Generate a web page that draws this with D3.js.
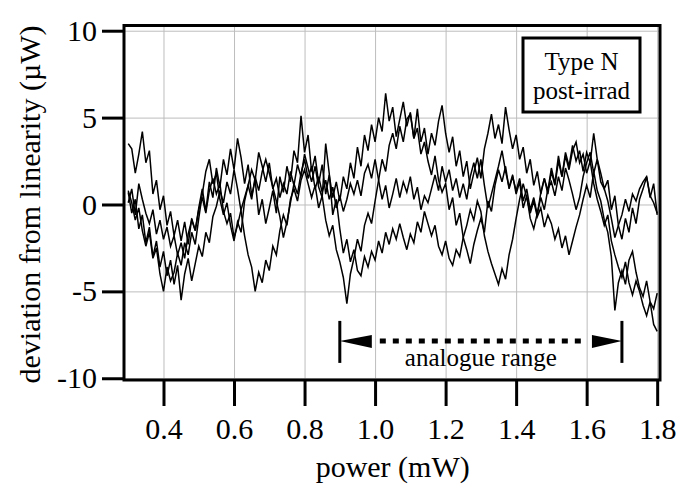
<!DOCTYPE html>
<html>
<head>
<meta charset="utf-8">
<script src="https://cdn.jsdelivr.net/npm/d3@7"></script>
<style>
  body { margin: 0; background: #fff; }
  svg text { font-family: "Liberation Serif", "Times New Roman", serif; fill: #000; }
  .grid line { stroke: #bdbdbd; stroke-width: 1px; }
  .grid path { display: none; }
  .axis path { display: none; }
  .axis line { stroke: #000; stroke-width: 3px; }
  .axis text { font-size: 30px; }
</style>
</head>
<body>
<div id="graphic"></div>
<script>
// sampling grid of the sweeps (mW)
var power = d3.range(151).map(function(i) { return +(0.30 + i * 0.01).toFixed(2); });

// four sweeps, deviation from linearity (µW)
var sweepA = [
  3.5, 3.2, 1.8, 2.9, 4.2, 2.4, 3.1, 0.6, 1.4, -0.3,
  0.5, -1.2, -0.4, -1.8, -0.9, -2.1, -1.0, -2.3, -0.8, -1.5,
  -0.2, 0.9, -0.4, 1.3, 0.4, 2.1, 1.0, 2.6, 1.7, 3.2,
  2.0, 3.8, 2.7, 1.2, 2.3, 0.5, 1.4, -0.6, 0.3, -1.1,
  -0.2, 0.8, -0.5, 1.6, 0.7, 2.2, 1.3, 3.1, 2.4, 5.1,
  3.0, 4.0, 1.9, 2.8, 1.2, 2.3, 0.6, 1.7, 0.4, 1.3,
  0.2, 1.6, 0.9, 2.4, 1.5, 3.3, 2.2, 4.0, 3.1, 4.6,
  3.6, 5.0, 4.2, 6.4, 4.8, 5.6, 3.9, 4.9, 5.9, 4.5,
  5.3, 3.8, 5.5, 3.6, 4.4, 2.9, 4.1, 3.4, 4.8, 5.7,
  4.1, 3.0, 3.9, 2.2, 3.1, 1.6, 2.5, 0.9, 1.8, 2.7,
  1.5, 3.2, 4.1, 5.2, 3.8, 4.6, 3.5, 5.6, 4.3, 3.2,
  4.0, 2.6, 3.3, 1.8, 2.6, 1.1, 1.9, 0.6, 1.5, 0.8,
  2.1, 1.2, 2.8, 1.6, 3.0, 2.2, 3.4, 2.5, 3.1, 1.9,
  3.0, 2.4, 4.1, 2.6, 1.8, 0.9, 1.4, -0.3, 0.5, -1.2,
  -2.0, -0.8, -1.6, -0.2, -1.1, 0.3, 0.9, 1.6, 0.4, 1.2,
  -0.6
];
var sweepB = [
  0.7, -0.5, 0.3, -1.4, -0.6, -2.2, -1.3, -3.0, -2.1, -3.6,
  -2.7, -4.1, -3.2, -4.6, -3.5, -5.5, -4.0, -3.1, -4.4, -3.4,
  -2.4, -3.0, -1.6, -2.2, -0.7, -0.1, 0.8, 0.1, 1.3, 0.6,
  2.0, 0.9, -0.4, -1.8, -2.9, -3.6, -5.0, -3.9, -4.5, -3.2,
  -3.8, -2.4, -2.9, -1.5, -0.6, -1.2, 0.3, 0.9, 0.2, 1.4,
  2.0, 1.2, 0.4, 1.1, -0.2, 0.5, -0.9, -1.8, -1.2, -2.6,
  -3.3, -4.2, -5.7, -4.0, -3.1, -2.0, -2.7, -1.2, -0.5, -1.1,
  0.2, 1.4, 2.6, 1.9, 3.4, 4.1, 3.2, 4.5, 3.6, 4.9,
  5.2, 3.8, 4.4, 2.9, 3.6, 2.5, 1.7, 2.8, 1.4, 0.7,
  1.2, -0.3, 0.4, -1.2, -0.5, -1.9, -2.6, -3.4, -2.3, -1.5,
  -0.8, -1.6, 0.2, -0.4, 1.1, 2.0, 1.3, 2.2, 0.9, 1.6,
  0.8, 1.5, 0.2, 0.9, -0.3, 0.4, -0.6, 0.7, 1.5, 0.6,
  1.9, 1.1, 2.5, 1.6, 2.8, 2.0, 3.1, 3.6, 2.4, 2.9,
  1.8, 2.5, 1.2, 0.3, -0.4, -1.2, -0.6, -2.1, -2.9, -3.6,
  -4.2, -3.3, -4.5, -5.2, -4.4, -5.0, -5.8, -6.4, -5.6, -6.9,
  -7.3
];
var sweepC = [
  0.8, 0.1, -0.9, -0.2, -1.5, -2.4, -1.6, -3.1, -2.5, -4.0,
  -5.0, -3.6, -4.4, -3.9, -2.8, -3.5, -2.2, -2.9, -1.6, -2.3,
  -0.8, 0.6, 1.9, 2.6, 1.2, 1.8, 0.3, -0.6, 0.1, -1.2,
  -2.1, -1.0, -1.6, 0.2, 1.1, 2.0, 1.4, 3.0, 2.2, 1.3,
  2.4, 0.9, 1.5, 0.4, 1.2, 0.6, 1.9, 1.1, 2.3, 1.6,
  2.9, 2.1, 1.3, 2.2, 1.0, 0.4, 3.5, 1.8, -0.6, 0.3,
  -1.4, -2.8, -2.0, -3.3, -2.6, -3.8, -4.1, -3.0, -3.6, -2.7,
  -3.2, -2.1, -2.8, -1.6, -2.3, -1.4, -2.0, -1.1, -1.9, -2.6,
  -1.7, -2.2, -1.0, -1.6, -0.4, -1.1, -1.8, -1.2, -2.4, -2.9,
  -2.1, -3.1, -3.5, -2.6, -3.0, -1.9, -1.2, -0.3, -0.9, 0.2,
  -0.4, -1.8, -2.7, -3.4, -4.0, -4.6, -3.7, -4.3, -2.9, -2.0,
  -0.8, 0.3, 1.2, 0.4, -0.5, 0.2, -0.7, -0.2, -1.3, -0.6,
  -1.1, -2.0, -1.4, -2.5, -1.8, -2.9, -2.1, -1.3, -0.6, 0.3,
  1.1, 0.4, 1.9, 0.8, 0.2, -0.9, -1.6, -3.0, -6.1, -4.5,
  -3.8, -4.6, -3.2, -2.7, -3.9, -4.8, -5.3, -4.4, -5.6, -6.0,
  -5.1
];
var sweepD = [
  0.1, 0.9, -0.6, 1.2, 0.3, -0.5, -1.1, -0.3, -1.7, -0.9,
  -2.0, -1.3, -2.4, -1.8, -2.9, -2.2, -3.1, -1.7, -0.9, -1.5,
  -0.3, 0.4, -0.5, 0.8, 1.5, 0.6, 1.2, -0.4, -1.1, -0.5,
  -1.9, -1.2, -0.3, 0.4, 1.1, 0.3, 1.6, 0.8, 1.9, 2.6,
  1.8, 1.0, 0.2, -0.7, -1.9, -1.0, 0.1, 1.2, 0.6, 1.8,
  2.6, 1.5, 2.2, 0.9, 1.6, 0.7, 1.4, 0.3, 1.0, -0.2,
  0.5, -0.4, 0.3, 1.2, 0.6, 1.4, 0.5, 1.8, 2.3, 1.5,
  2.6, 1.4, 0.3, 1.1, -0.2, 0.6, 1.5, 0.4, 1.3, 0.7,
  1.6, 0.3, 1.0, -0.3, 0.5, 0.1, 0.9, 1.7, 0.8, 2.2,
  1.3, 2.0, 0.8, 1.5, 0.4, 1.2, 0.3, 1.6, 2.4, 1.5,
  2.6, 1.1, -0.2, 0.6, 1.4, 2.2, 3.1, 1.9, 1.0, 1.7,
  0.6, 1.3, -0.2, 0.5, -0.8, -1.4, -0.5, 0.4, -0.3, 0.9,
  1.3, 0.5, 1.6, 0.8, 2.1, 1.4, 0.6, -0.3, 0.4, 1.6,
  2.4, 3.0, 1.8, 2.6, 1.3, 0.9, 0.2, -0.8, -1.9, -1.2,
  -0.6, 0.3, -0.4, 0.6, 0.2, 0.9, 1.3, 1.6, 0.5, 0.1,
  -0.5
];

var xTicks = [0.4, 0.6, 0.8, 1.0, 1.2, 1.4, 1.6, 1.8];
var yTicks = [-10, -5, 0, 5, 10];

// analogue range annotation (mW) and its height (µW)
var analogueRange = [0.9, 1.7];
var analogueLevel = -7.85;
var legendLines = ["Type N", "post-irrad"];

var width = 679, height = 486;
var margin = { top: 25.5, right: 19, bottom: 106, left: 124 };

var svg = d3.select('#graphic').append('svg')
  .attr('width', width)
  .attr('height', height);

svg.append('rect').attr('width', width).attr('height', height).attr('fill', '#fff');

var x = d3.scaleLinear()
  .domain([0.288, 1.808])
  .range([margin.left, width - margin.right]);

var y = d3.scaleLinear()
  .domain([-10.1, 10.3])
  .range([height - margin.bottom, margin.top]);

var plotH = y.range()[0] - y.range()[1];
var plotW = x.range()[1] - x.range()[0];

// gridlines
svg.append('g')
  .attr('class', 'grid')
  .attr('transform', 'translate(0,' + y.range()[1] + ')')
  .call(d3.axisBottom(x).tickValues(xTicks).tickSize(plotH).tickFormat(''));

svg.append('g')
  .attr('class', 'grid')
  .attr('transform', 'translate(' + x.range()[0] + ',0)')
  .call(d3.axisRight(y).tickValues(yTicks).tickSize(plotW).tickFormat(''));

// sweeps
var line = d3.line()
  .x(function(d) { return x(d[0]); })
  .y(function(d) { return y(d[1]); });

[sweepA, sweepB, sweepC, sweepD].forEach(function(s) {
  svg.append('path')
    .datum(d3.zip(power, s))
    .attr('d', line)
    .attr('fill', 'none')
    .attr('stroke', '#000')
    .attr('stroke-width', 1.5)
    .attr('stroke-linejoin', 'miter');
});

// frame
svg.append('rect')
  .attr('x', x.range()[0])
  .attr('y', y.range()[1])
  .attr('width', plotW)
  .attr('height', plotH)
  .attr('fill', 'none')
  .attr('stroke', '#000')
  .attr('stroke-width', 3);

// axes
svg.append('g')
  .attr('class', 'axis')
  .attr('transform', 'translate(0,' + y.range()[0] + ')')
  .call(d3.axisBottom(x).tickValues(xTicks).tickSize(26).tickPadding(12).tickFormat(d3.format('.1f')));

svg.append('g')
  .attr('class', 'axis')
  .attr('transform', 'translate(' + x.range()[0] + ',0)')
  .call(d3.axisLeft(y).tickValues(yTicks).tickSize(22).tickPadding(5)
    .tickFormat(function(d) { return String(d); }));

svg.append('text')
  .attr('x', x(1.05))
  .attr('y', 477)
  .attr('text-anchor', 'middle')
  .style('font-size', '30px')
  .text('power (mW)');

svg.append('text')
  .attr('transform', 'translate(40,' + y(0) + ') rotate(-90)')
  .attr('text-anchor', 'middle')
  .style('font-size', '30px')
  .text('deviation from linearity (\u00b5W)');

// legend box
var lg = svg.append('g').attr('transform', 'translate(523,38)');
lg.append('rect')
  .attr('width', 117)
  .attr('height', 74)
  .attr('fill', '#fff')
  .attr('stroke', '#000')
  .attr('stroke-width', 3);
lg.selectAll('text')
  .data(legendLines)
  .join('text')
  .attr('x', 58.5)
  .attr('y', function(d, i) { return 32 + i * 29; })
  .attr('text-anchor', 'middle')
  .style('font-size', '25px')
  .text(function(d) { return d; });

// analogue range arrow
var ay = y(analogueLevel);
var x0 = x(analogueRange[0]), x1 = x(analogueRange[1]);
var ann = svg.append('g');
[x0, x1].forEach(function(px) {
  ann.append('line')
    .attr('x1', px).attr('x2', px)
    .attr('y1', ay - 20).attr('y2', ay + 22)
    .attr('stroke', '#000').attr('stroke-width', 3);
});
ann.append('line')
  .attr('x1', x0 + 40).attr('x2', x1 - 36)
  .attr('y1', ay).attr('y2', ay)
  .attr('stroke', '#000')
  .attr('stroke-width', 5)
  .attr('stroke-dasharray', '6,7');
ann.append('path')
  .attr('d', 'M' + x0 + ',' + ay + 'L' + (x0 + 32) + ',' + (ay - 6) + 'L' + (x0 + 32) + ',' + (ay + 7) + 'Z')
  .attr('fill', '#000');
ann.append('path')
  .attr('d', 'M' + x1 + ',' + ay + 'L' + (x1 - 30) + ',' + (ay - 6) + 'L' + (x1 - 30) + ',' + (ay + 7) + 'Z')
  .attr('fill', '#000');
ann.append('text')
  .attr('x', (x0 + x1) / 2)
  .attr('y', ay + 25)
  .attr('text-anchor', 'middle')
  .style('font-size', '25px')
  .text('analogue range');
</script>
</body>
</html>
